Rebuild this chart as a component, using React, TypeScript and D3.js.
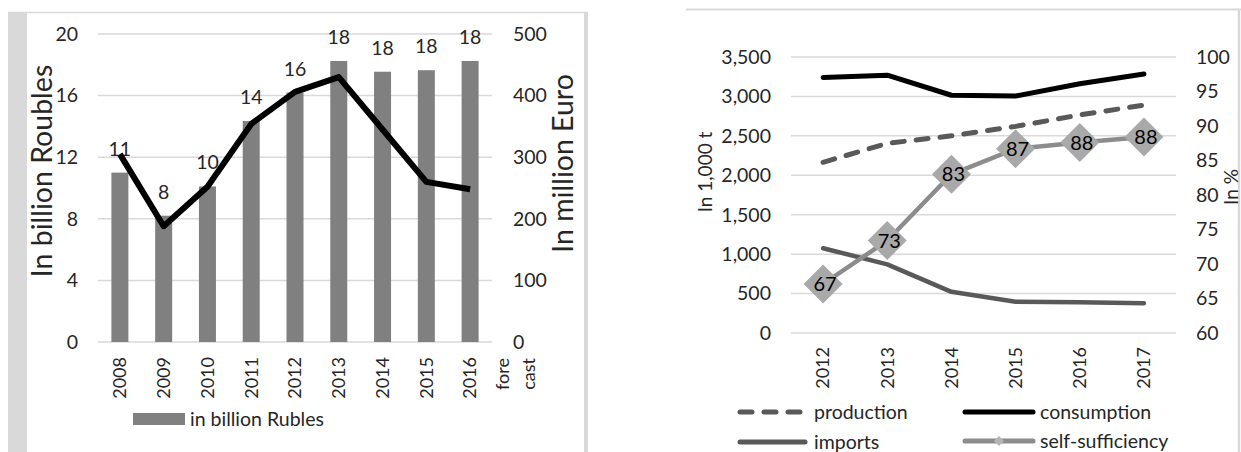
import React from 'react';
import * as d3 from 'd3';

// ---------- Left chart data ----------
const years = ['2008', '2009', '2010', '2011', '2012', '2013', '2014', '2015', '2016'];
const rubles = [11.0, 8.2, 10.1, 14.35, 16.2, 18.25, 17.55, 17.65, 18.25];
const euros = [305, 188, 252, 354, 406, 430, 345, 260, 248];
const rubleTicks = [0, 4, 8, 12, 16, 20];
const euroTicks = [0, 100, 200, 300, 400, 500];

// ---------- Right chart data ----------
const years2 = ['2012', '2013', '2014', '2015', '2016', '2017'];
const production = [2165, 2405, 2500, 2620, 2765, 2890];
const consumption = [3240, 3270, 3015, 3005, 3160, 3285];
const imports = [1075, 870, 522, 397, 389, 378];
const selfSufficiency = [67.1, 73.4, 83.0, 86.7, 87.6, 88.4];
const tonTicks = [0, 500, 1000, 1500, 2000, 2500, 3000, 3500];
const pctTicks = [60, 65, 70, 75, 80, 85, 90, 95, 100];

const FONT = 'Lato, "Open Sans", sans-serif';
const TXT = '#262626';
const GRID = '#d9d9d9';
const FS = 19.5;
const FSX = 18;

export default function App() {
  // Left chart scales
  const x1 = d3.scaleBand<string>().domain(years).range([98, 492]);
  const y1 = d3.scaleLinear().domain([0, 20]).range([342, 34]);
  const y1r = d3.scaleLinear().domain([0, 500]).range([342, 34]);
  const c1 = (d: string) => (x1(d) as number) + x1.bandwidth() / 2;
  const barW = 17;
  const euroLine = d3
    .line<number>()
    .x((_, i) => c1(years[i]))
    .y((d) => y1r(d));
  const fmt0 = d3.format('.0f');

  // Right chart scales
  const x2 = d3.scaleBand<string>().domain(years2).range([791, 1176]);
  const y2 = d3.scaleLinear().domain([0, 3500]).range([333, 57]);
  const y2r = d3.scaleLinear().domain([60, 100]).range([333, 57]);
  const c2 = (d: string) => (x2(d) as number) + x2.bandwidth() / 2;
  const tonLine = d3
    .line<number>()
    .x((_, i) => c2(years2[i]))
    .y((d) => y2(d));
  const pctLine = d3
    .line<number>()
    .x((_, i) => c2(years2[i]))
    .y((d) => y2r(d));
  const fmtTon = d3.format(',');
  const dia = 19.5;
  const diamond = (cx: number, cy: number, r: number) =>
    `M${cx},${cy - r}L${cx + r},${cy}L${cx},${cy + r}L${cx - r},${cy}Z`;

  return (
    <svg
      width={1241}
      height={452}
      style={{ position: 'absolute', left: 0, top: 0, background: '#fff' }}
      fontFamily={FONT}
    >
      {/* ===== Left panel frame ===== */}
      <rect x={8} y={12} width={19} height={440} fill={GRID} />
      <line x1={8} x2={588} y1={12.5} y2={12.5} stroke={GRID} strokeWidth={1.5} />
      <rect x={584} y={12} width={4} height={440} fill={GRID} />

      {/* grid */}
      {rubleTicks.map((t) => (
        <line key={'g1' + t} x1={98} x2={492} y1={y1(t)} y2={y1(t)} stroke={GRID} strokeWidth={1.5} />
      ))}
      {/* left ticks */}
      {rubleTicks.map((t) => (
        <text key={'lt' + t} x={78} y={y1(t)} dy="0.35em" textAnchor="end" fontSize={FS} fill={TXT}>
          {t}
        </text>
      ))}
      {/* right ticks */}
      {euroTicks.map((t) => (
        <text key={'rt' + t} x={513} y={y1r(t)} dy="0.35em" textAnchor="start" fontSize={FS} fill={TXT}>
          {t}
        </text>
      ))}
      {/* bars */}
      {rubles.map((v, i) => (
        <rect key={'b' + i} x={c1(years[i]) - barW / 2} y={y1(v)} width={barW} height={y1(0) - y1(v)} fill="#808080" />
      ))}
      {/* bar labels */}
      {rubles.map((v, i) => (
        <text key={'bl' + i} x={c1(years[i])} y={y1(v) - 17} textAnchor="middle" fontSize={FS} fill={TXT}>
          {fmt0(v)}
        </text>
      ))}
      {/* euro line */}
      <path d={euroLine(euros) as string} fill="none" stroke="#000" strokeWidth={6} strokeLinejoin="round" />
      {/* x labels */}
      {years.map((y) => (
        <text
          key={'xl' + y}
          transform={`translate(${c1(y)},357) rotate(-90)`}
          textAnchor="end"
          dy="0.35em"
          fontSize={FSX}
          fill={TXT}
        >
          {y}
        </text>
      ))}
      <text transform="translate(502.5,358) rotate(-90)" textAnchor="end" dy="0.35em" fontSize={FSX} fill={TXT}>
        fore
      </text>
      <text transform="translate(528.5,358) rotate(-90)" textAnchor="end" dy="0.35em" fontSize={FSX} fill={TXT}>
        cast
      </text>
      {/* axis titles */}
      <text transform="translate(52,171) rotate(-90)" textAnchor="middle" fontSize={28.5} fill={TXT}>
        In billion Roubles
      </text>
      <text transform="translate(573,163.5) rotate(-90)" textAnchor="middle" fontSize={28.5} fill={TXT}>
        In million Euro
      </text>
      {/* legend */}
      <rect x={133} y={413} width={52} height={12} fill="#808080" />
      <text x={190} y={419} dy="0.35em" fontSize={FS} fill={TXT}>
        in billion Rubles
      </text>

      {/* ===== Right panel frame ===== */}
      <line x1={686} x2={1241} y1={9.5} y2={9.5} stroke={GRID} strokeWidth={2} />
      <line x1={1239} x2={1239} y1={9} y2={452} stroke={GRID} strokeWidth={2.5} />

      {tonTicks.map((t) => (
        <line key={'g2' + t} x1={791} x2={1176} y1={y2(t)} y2={y2(t)} stroke={GRID} strokeWidth={1.5} />
      ))}
      {tonTicks.map((t) => (
        <text key={'tt' + t} x={771} y={y2(t)} dy="0.35em" textAnchor="end" fontSize={FS} fill={TXT}>
          {fmtTon(t)}
        </text>
      ))}
      {pctTicks.map((t) => (
        <text key={'pt' + t} x={1196} y={y2r(t)} dy="0.35em" textAnchor="start" fontSize={FS} fill={TXT}>
          {t}
        </text>
      ))}
      {/* lines */}
      <path d={tonLine(imports) as string} fill="none" stroke="#595959" strokeWidth={4.5} strokeLinejoin="round" strokeLinecap="round" />
      <path d={tonLine(consumption) as string} fill="none" stroke="#000" strokeWidth={5} strokeLinejoin="round" strokeLinecap="round" />
      <path
        d={tonLine(production) as string}
        fill="none"
        stroke="#595959"
        strokeWidth={5}
        strokeDasharray="12,12"
        strokeLinecap="round"
      />
      <path d={pctLine(selfSufficiency) as string} fill="none" stroke="#8c8c8c" strokeWidth={4.5} strokeLinejoin="round" />
      {selfSufficiency.map((v, i) => (
        <path key={'dm' + i} d={diamond(c2(years2[i]), y2r(v), dia)} fill="#a9a9a9" />
      ))}
      {selfSufficiency.map((v, i) => (
        <text key={'dl' + i} x={c2(years2[i]) + 2} y={y2r(v)} dy="0.35em" textAnchor="middle" fontSize={20} fill="#000">
          {fmt0(v)}
        </text>
      ))}
      {/* x labels */}
      {years2.map((y) => (
        <text
          key={'xl2' + y}
          transform={`translate(${c2(y)},347) rotate(-90)`}
          textAnchor="end"
          dy="0.35em"
          fontSize={FSX}
          fill={TXT}
        >
          {y}
        </text>
      ))}
      {/* axis titles */}
      <text transform="translate(712,172) rotate(-90)" textAnchor="middle" fontSize={19} fill={TXT}>
        In 1,000 t
      </text>
      <text transform="translate(1238,187) rotate(-90)" textAnchor="middle" fontSize={19} fill={TXT}>
        In %
      </text>
      {/* legend */}
      <line x1={740} x2={800} y1={412} y2={412} stroke="#595959" strokeWidth={5} strokeDasharray="12,12" strokeLinecap="round" />
      <text x={814} y={412} dy="0.35em" fontSize={FS} fill={TXT}>production</text>
      <line x1={740} x2={805} y1={442} y2={442} stroke="#595959" strokeWidth={5} strokeLinecap="round" />
      <text x={814} y={442} dy="0.35em" fontSize={FS} fill={TXT}>imports</text>
      <line x1={965} x2={1033} y1={412} y2={412} stroke="#000" strokeWidth={5} strokeLinecap="round" />
      <text x={1040} y={412} dy="0.35em" fontSize={FS} fill={TXT}>consumption</text>
      <line x1={965} x2={1033} y1={441} y2={441} stroke="#8c8c8c" strokeWidth={5} strokeLinecap="round" />
      <path d={diamond(999, 441, 5)} fill="#b5b5b5" />
      <text x={1040} y={441} dy="0.35em" fontSize={FS} fill={TXT}>self-sufficiency</text>
    </svg>
  );
}
